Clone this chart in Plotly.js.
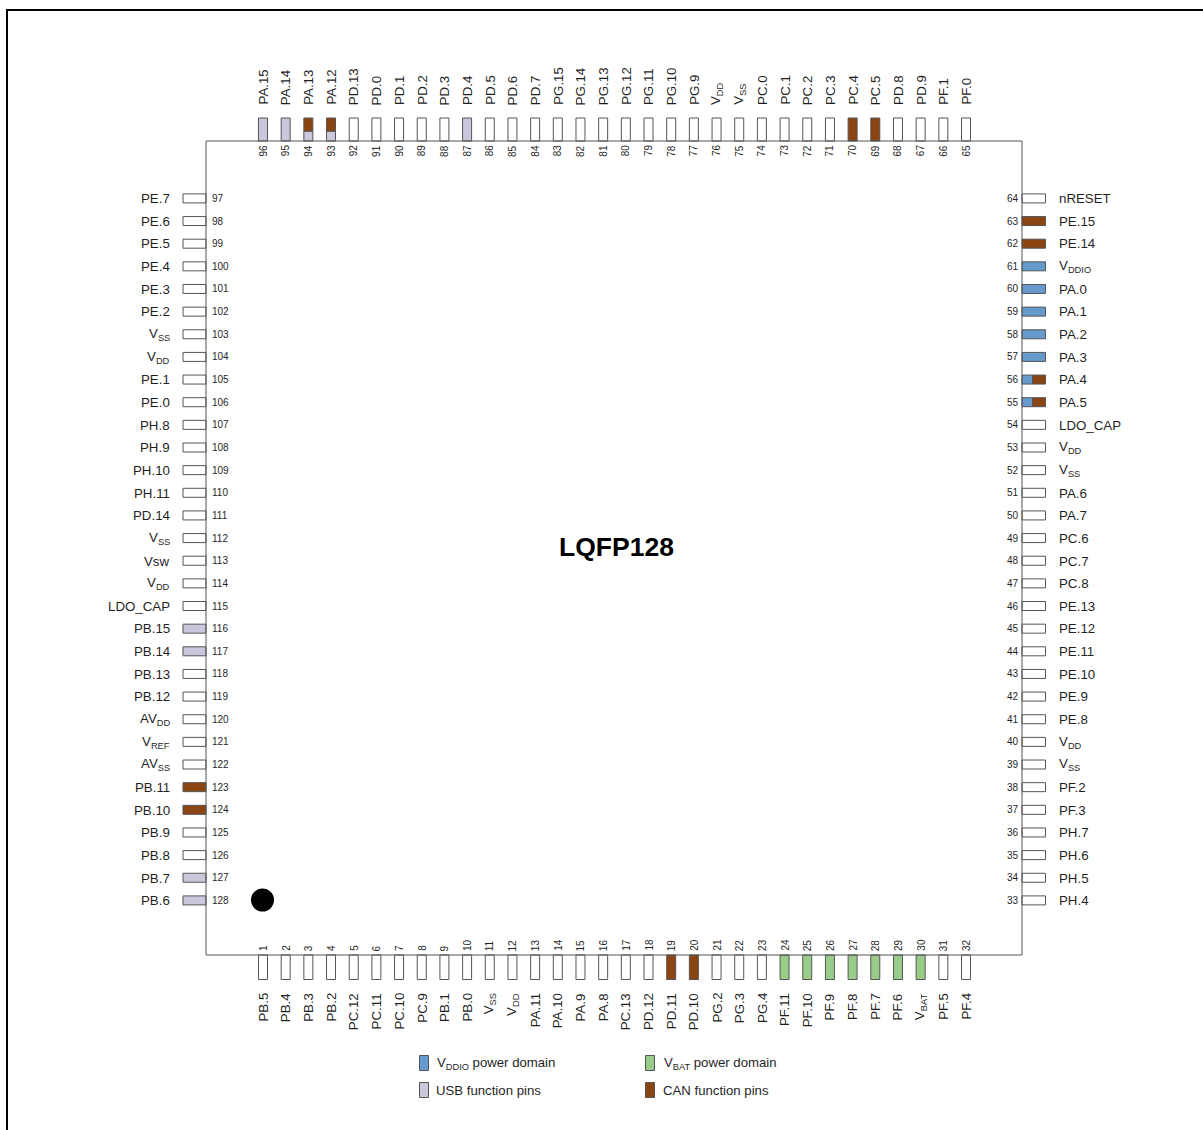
<!DOCTYPE html>
<html>
<head>
<meta charset="utf-8">
<script src="https://cdn.plot.ly/plotly-3.0.1.min.js"></script>
<style>html,body{margin:0;padding:0;background:#fff}#c{width:1203px;height:1130px}</style>
</head>
<body>
<div id="c"></div>
<script>
// ---------- data ----------
const bottomPins = ["PB.5","PB.4","PB.3","PB.2","PC.12","PC.11","PC.10","PC.9","PB.1","PB.0","V<sub>SS</sub>","V<sub>DD</sub>","PA.11","PA.10","PA.9","PA.8","PC.13","PD.12","PD.11","PD.10","PG.2","PG.3","PG.4","PF.11","PF.10","PF.9","PF.8","PF.7","PF.6","V<sub>BAT</sub>","PF.5","PF.4"];
const rightPins = ["PH.4","PH.5","PH.6","PH.7","PF.3","PF.2","V<sub>SS</sub>","V<sub>DD</sub>","PE.8","PE.9","PE.10","PE.11","PE.12","PE.13","PC.8","PC.7","PC.6","PA.7","PA.6","V<sub>SS</sub>","V<sub>DD</sub>","LDO_CAP","PA.5","PA.4","PA.3","PA.2","PA.1","PA.0","V<sub>DDIO</sub>","PE.14","PE.15","nRESET"];
const topPins = ["PF.0","PF.1","PD.9","PD.8","PC.5","PC.4","PC.3","PC.2","PC.1","PC.0","V<sub>SS</sub>","V<sub>DD</sub>","PG.9","PG.10","PG.11","PG.12","PG.13","PG.14","PG.15","PD.7","PD.6","PD.5","PD.4","PD.3","PD.2","PD.1","PD.0","PD.13","PA.12","PA.13","PA.14","PA.15"];
const leftPins = ["PE.7","PE.6","PE.5","PE.4","PE.3","PE.2","V<sub>SS</sub>","V<sub>DD</sub>","PE.1","PE.0","PH.8","PH.9","PH.10","PH.11","PD.14","V<sub>SS</sub>","Vsw","V<sub>DD</sub>","LDO_CAP","PB.15","PB.14","PB.13","PB.12","AV<sub>DD</sub>","V<sub>REF</sub>","AV<sub>SS</sub>","PB.11","PB.10","PB.9","PB.8","PB.7","PB.6"];
const usbPinNumbers = [87,95,96,116,117,127,128];
const canPinNumbers = [19,20,62,63,69,70,123,124];
const vddioPinNumbers = [57,58,59,60,61];
const vbatPinNumbers = [24,25,26,27,28,29,30];
const usbCanSplitPins = [93,94];
const vddioCanSplitPins = [55,56];
const packageName = "LQFP128";
const legendLabels = ["V<sub>DDIO</sub> power domain","USB function pins","V<sub>BAT</sub> power domain","CAN function pins"];

// ---------- styles ----------
const BLUE="#6699cc", LAV="#ccc6dd", BROWN="#8b4513", GREEN="#99cc88", EDGE="#555555", TXT="#1f1f1f";
const FONT="Liberation Sans, Arial, sans-serif";
const PITCH=(966-263)/31, W=9;
const BODY={x0:206,x1:1022,y0:141,y1:955};
const LEN={b:24.5,t:23,l:23,r:23.5};

// pin number -> side and centre position (pixel-unit axes)
function pinInfo(n){
  if(n<=32) return {side:"b",c:263+(n-1)*PITCH};
  if(n<=64) return {side:"r",c:900.4-(n-33)*(702/31)};
  if(n<=96) return {side:"t",c:966-(n-65)*PITCH};
  return {side:"l",c:198.4+(n-97)*(702/31)};
}
const traces=[];
function segTrace(name,color,segs,orient){
  if(!segs.length) return;
  const t={type:"bar",name,orientation:orient,hoverinfo:"skip",showlegend:false,
    marker:{color,line:{color:EDGE,width:1}},width:segs.map(s=>s.w),base:segs.map(s=>s.a)};
  if(orient==="v"){t.x=segs.map(s=>s.c);t.y=segs.map(s=>s.l);}
  else{t.y=segs.map(s=>s.c);t.x=segs.map(s=>s.l);}
  traces.push(t);
}
// span of a pin along its length, as fractions measured from the package edge
function span(p,f0,f1){
  const L=LEN[p.side];
  if(p.side==="b") return {a:BODY.y1+L*f0,l:L*(f1-f0)};
  if(p.side==="t") return {a:BODY.y0-L*f1,l:L*(f1-f0)};
  if(p.side==="r") return {a:BODY.x1+L*f0,l:L*(f1-f0)};
  return {a:BODY.x0-L*f1,l:L*(f1-f0)};
}
function addPins(name,color,nums,f0=0,f1=1){
  const v=[],h=[];
  nums.forEach(n=>{const p=pinInfo(n),s=span(p,f0,f1),o={c:p.c,a:s.a,l:s.l,w:W};
    (p.side==="b"||p.side==="t"?v:h).push(o);});
  segTrace(name,color,v,"v");segTrace(name,color,h,"h");
}
const special=new Set([...usbPinNumbers,...canPinNumbers,...vddioPinNumbers,...vbatPinNumbers,...usbCanSplitPins,...vddioCanSplitPins]);
const allNums=Array.from({length:128},(_,i)=>i+1);
addPins("Pins","#ffffff",allNums.filter(n=>!special.has(n)));
addPins("USB function pins",LAV,usbPinNumbers);
addPins("CAN function pins",BROWN,canPinNumbers);
addPins("VDDIO power domain",BLUE,vddioPinNumbers);
addPins("VBAT power domain",GREEN,vbatPinNumbers);
addPins("USB function pins",LAV,usbCanSplitPins,0,0.43);
addPins("CAN function pins",BROWN,usbCanSplitPins,0.43,1);
addPins("VDDIO power domain",BLUE,vddioCanSplitPins,0,0.45);
addPins("CAN function pins",BROWN,vddioCanSplitPins,0.45,1);

// pin-1 dot
traces.push({type:"scatter",mode:"markers",x:[262.5],y:[900],hoverinfo:"skip",showlegend:false,
  marker:{color:"#000",size:23,line:{width:0}}});

// legend swatches
const swatches=[[424,1063,BLUE],[424,1090,LAV],[650,1063,GREEN],[650,1090,BROWN]];
swatches.forEach(s=>traces.push({type:"bar",orientation:"v",x:[s[0]],y:[15],base:[s[1]-7.5],width:[9],hoverinfo:"skip",showlegend:false,
  marker:{color:s[2],line:{color:EDGE,width:1}}}));

// ---------- text ----------
const ann=[];
function txt(x,y,text,size,opt={}){
  ann.push(Object.assign({x,y,text,xref:"x",yref:"y",showarrow:false,borderpad:0,borderwidth:0,
    font:{family:FONT,size,color:TXT}},opt));
}
const NAME=13.3, NUM=10;
const sides=[[bottomPins,1],[rightPins,33],[topPins,65],[leftPins,97]];
sides.forEach(([names,start])=>names.forEach((nm,i)=>{
  const n=start+i,p=pinInfo(n);
  if(p.side==="b"){
    txt(p.c,993,nm,NAME,{textangle:-90,xanchor:"center",yanchor:"top"});
    txt(p.c,951,String(n),NUM,{textangle:-90,xanchor:"center",yanchor:"bottom"});
  }else if(p.side==="t"){
    txt(p.c,105,nm,NAME,{textangle:-90,xanchor:"center",yanchor:"bottom"});
    txt(p.c,144.5,String(n),NUM,{textangle:-90,xanchor:"center",yanchor:"top"});
  }else if(p.side==="l"){
    txt(169.5,p.c+0.3,nm,NAME,{xanchor:"right",yanchor:"middle"});
    txt(212,p.c,String(n),NUM,{xanchor:"left",yanchor:"middle"});
  }else{
    txt(1059,p.c+0.3,nm,NAME,{xanchor:"left",yanchor:"middle"});
    txt(1019,p.c,String(n),NUM,{xanchor:"right",yanchor:"middle"});
  }
}));
txt(616,547,"<b>"+packageName+"</b>",26.5,{xanchor:"center",yanchor:"middle",font:{family:FONT,size:26.5,color:"#000"}});
txt(437,1063,legendLabels[0],13.2,{xanchor:"left",yanchor:"middle"});
txt(436,1090,legendLabels[1],13.2,{xanchor:"left",yanchor:"middle"});
txt(664,1063,legendLabels[2],13.2,{xanchor:"left",yanchor:"middle"});
txt(663,1090,legendLabels[3],13.2,{xanchor:"left",yanchor:"middle"});

const layout={
  width:1203,height:1130,margin:{l:0,r:0,t:0,b:0},paper_bgcolor:"#fff",plot_bgcolor:"#fff",
  barmode:"overlay",showlegend:false,hovermode:false,
  xaxis:{range:[0,1203],visible:false,fixedrange:true},
  yaxis:{range:[1130,0],visible:false,fixedrange:true},
  shapes:[
    {type:"rect",xref:"x",yref:"y",x0:BODY.x0,x1:BODY.x1,y0:BODY.y0,y1:BODY.y1,line:{color:EDGE,width:1},layer:"above"},
    {type:"path",xref:"x",yref:"y",path:"M7,1130 L7,10 L1203,10",line:{color:"#000",width:2},layer:"above"}
  ],
  annotations:ann
};
Plotly.newPlot("c",traces,layout,{staticPlot:true,displayModeBar:false});
</script>
</body>
</html>
